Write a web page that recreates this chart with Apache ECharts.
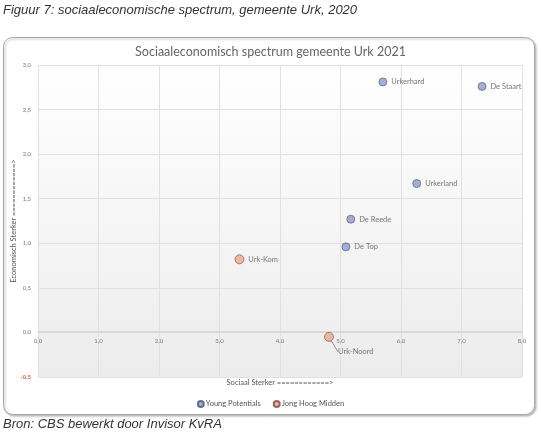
<!DOCTYPE html>
<html><head><meta charset="utf-8">
<script src="https://cdn.jsdelivr.net/npm/echarts@6/dist/echarts.min.js"></script>
<style>html,body{margin:0;padding:0;background:#fff}#c{width:541px;height:436px}</style>
</head><body><div id="c"></div>
<script>
var youngNames = ['Urkerhard','De Staart','Urkerland','De Reede','De Top'];
var youngX = [5.70, 7.34, 6.26, 5.17, 5.09];
var youngY = [2.81, 2.76, 1.67, 1.27, 0.96];
var jongNames = ['Urk-Kom','Urk-Noord'];
var jongX = [3.33, 4.81];
var jongY = [0.82, -0.05];
var xTicks = [0,1,2,3,4,5,6,7,8];
var yTicks = [-0.5,0,0.5,1,1.5,2,2.5,3];

function fmt(v){ return v.toFixed(1).replace('.', ','); }
function build(names, xs, ys){ return names.map(function(n,i){ return {name:n, value:[xs[i], ys[i]]}; }); }

var FONT = 'Lato';
var chart = echarts.init(document.getElementById('c'), null, {renderer:'canvas'});
var jongData = build(jongNames, jongX, jongY);
jongData[1].label = {position:[14,16]};
jongData[1].labelLine = {show:true, lineStyle:{color:'#777', width:0.8}};
chart.setOption({
  animation:false,
  backgroundColor:'#fff',
  graphic:[
    {type:'rect', shape:{x:3.5,y:37.5,width:531,height:377,r:9}, style:{fill:'#fff', stroke:'#a8a8a8', lineWidth:1, shadowColor:'rgba(0,0,0,0.25)', shadowBlur:2, shadowOffsetX:1.5, shadowOffsetY:1.5}, z:-10},
    {type:'text', left:3, top:4, style:{text:'Figuur 7: sociaaleconomische spectrum, gemeente Urk, 2020', font:'italic 13px "Liberation Sans"', fill:'#333'}},
    {type:'text', left:3, top:418, style:{text:'Bron: CBS bewerkt door Invisor KvRA', font:'italic 13px "Liberation Sans"', fill:'#333'}}
  ],
  title:{text:'Sociaaleconomisch spectrum gemeente Urk 2021', left:'center', top:40, textStyle:{fontFamily:FONT, fontSize:12.5, fontWeight:'normal', color:'#666'}},
  legend:{top:395, left:'center', itemWidth:6, itemHeight:6, itemGap:12, icon:'circle',
    textStyle:{fontFamily:FONT, fontSize:7.5, color:'#555', padding:[0,0,0,-3]},
    data:['Young Potentials','Jong Hoog Midden']},
  grid:{left:38, right:19, top:65, bottom:59, show:true, borderWidth:0, containLabel:false, outerBoundsMode:'none',
    backgroundColor:{type:'linear', x:0, y:0, x2:0, y2:1, colorStops:[{offset:0,color:'#ffffff'},{offset:1,color:'#ececec'}]}},
  xAxis:[{type:'value', min:0, max:8, interval:1, position:'bottom',
    name:'Sociaal Sterker ============>', nameLocation:'middle', nameGap:2,
    nameTextStyle:{fontFamily:FONT, fontSize:7.5, color:'#555', verticalAlign:'top'},
    axisLine:{onZero:false, lineStyle:{color:'#e0e0e0', width:1}},
    axisTick:{show:false},
    axisLabel:{show:false},
    splitLine:{lineStyle:{color:'#e0e0e0'}}},
   {type:'value', min:0, max:8, interval:1, position:'bottom', offset:-45,
    axisLine:{onZero:false, lineStyle:{color:'#d4d4d4', width:1.5}},
    axisTick:{show:false},
    axisLabel:{formatter:function(v){return fmt(v);}, fontFamily:FONT, fontSize:6, color:'#777', margin:6},
    splitLine:{show:false}}],
  yAxis:{type:'value', min:-0.5, max:3, interval:0.5,
    name:'Economisch Sterker ============>', nameLocation:'middle', nameGap:20, nameRotate:90, nameMoveOverlap:false,
    nameTextStyle:{fontFamily:FONT, fontSize:7.5, color:'#555'},
    axisLine:{show:false}, axisTick:{show:false},
    axisLabel:{formatter:function(v){return fmt(v);}, fontFamily:FONT, fontSize:6,
      color:function(v){ return Number(v) < 0 ? '#d22' : '#777'; }, margin:7},
    splitLine:{lineStyle:{color:'#e0e0e0'}}},
  series:[
    {name:'Young Potentials', type:'scatter', symbolSize:8,
      itemStyle:{color:'#8e9bc6', borderColor:'#4a5578', borderWidth:0.8},
      label:{show:true, position:'right', distance:4, formatter:'{b}', fontFamily:FONT, fontSize:7.5, color:'#555'},
      data:build(youngNames, youngX, youngY)},
    {name:'Jong Hoog Midden', type:'scatter', symbolSize:9,
      itemStyle:{color:'#eaa68d', borderColor:'#7a4a3a', borderWidth:0.8},
      label:{show:true, position:'right', distance:4, formatter:'{b}', fontFamily:FONT, fontSize:7.5, color:'#555'},
      data:jongData}
  ]
});
</script></body></html>
